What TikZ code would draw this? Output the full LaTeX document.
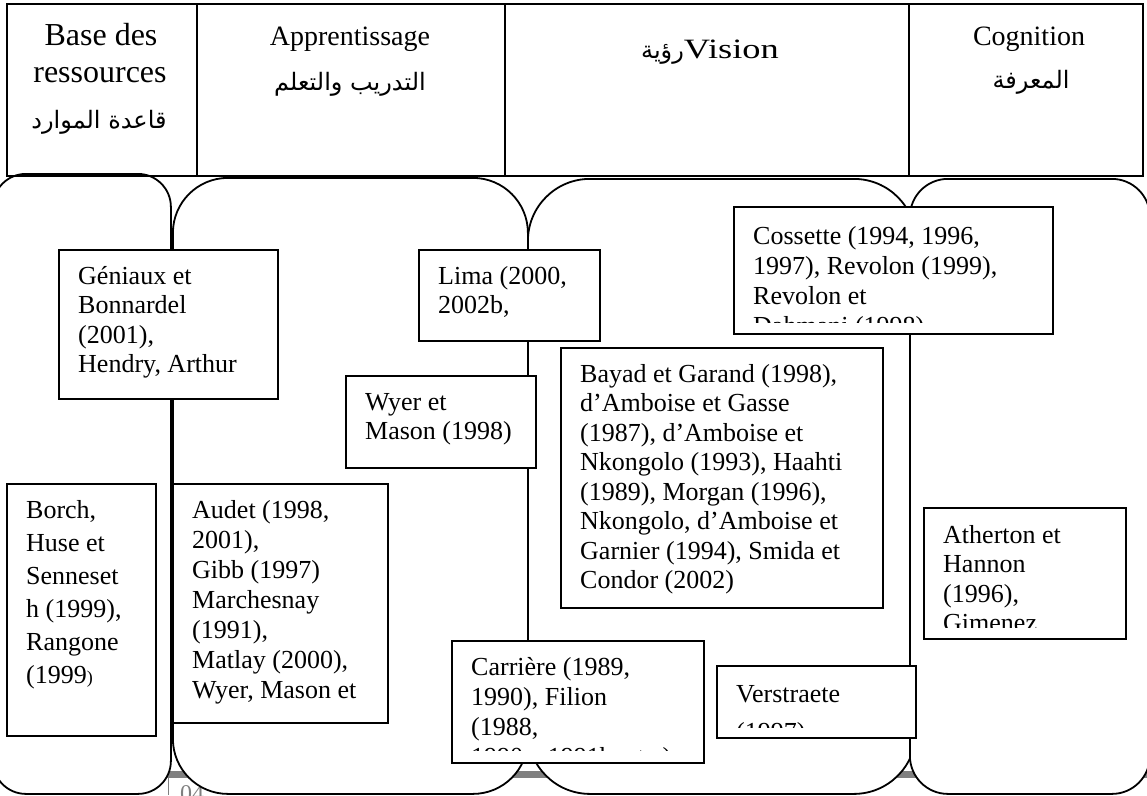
\documentclass[tikz,border=0pt]{standalone}
\usepackage{fontspec}
\setmainfont{Liberation Serif}
\newfontfamily\arabicfont[Script=Arabic]{DejaVu Sans}
\TeXXeTstate=1
\tikzset{
 lane/.style={draw=black, line width=1.8pt, fill=white, inner sep=0pt, anchor=north west},
 hcell/.style={draw=black, line width=2.2pt, inner sep=0pt, anchor=north west},
 refbox/.style={draw=black, line width=2pt, fill=white, inner sep=0pt, anchor=north west},
 reftext/.style={inner sep=0pt, anchor=base west},
 hbig/.style={inner sep=0pt, anchor=base, font=\fontsize{32}{32}\selectfont},
 hmid/.style={inner sep=0pt, anchor=base, font=\fontsize{28}{28}\selectfont},
 harab/.style={inner sep=0pt, anchor=base, font=\arabicfont\fontsize{24}{24}\selectfont},
}
% name, x, y, w, h, first baseline offset, line spacing, bottom clip margin, text
\newcommand\citebox[9]{%
 \node[refbox, minimum width=#4pt, minimum height=#5pt] (#1) at (#2,-#3) {};
 \begin{scope}
  \clip (#2,-#3) rectangle ({#2+#4},{-#3-#5+#8});
  \node[reftext] (#1-t) at ({#2+20},{-#3-#6}) {\parbox[t]{400pt}{\fontsize{26}{#7}\selectfont\raggedright #9}};
 \end{scope}}
\begin{document}
\begin{tikzpicture}[x=1pt,y=1pt]
\useasboundingbox (0,0) rectangle (1147,-795);
% gray page rule behind lanes
\fill[gray] (160,-771) rectangle (1147,-778);
\draw[gray, line width=1pt] (168,-778) -- (168,-795);
\node[gray, inner sep=0pt, anchor=base west, font=\fontsize{24}{24}\selectfont] (pg) at (180,-801) {04};
% lanes
\node[lane, rounded corners=33pt, minimum width=178pt, minimum height=620pt] (lane1) at (-8,-173) {};
\node[lane, rounded corners=55pt, minimum width=355pt, minimum height=616pt] (lane2) at (172,-177) {};
\node[lane, rounded corners=62pt, minimum width=388pt, minimum height=615pt] (lane3) at (527,-178) {};
\node[lane, rounded corners=38pt, minimum width=240pt, minimum height=615pt] (lane4) at (909,-178) {};
% header
\node[hcell, minimum width=190pt, minimum height=172pt] (h1) at (6,-3) {};
\node[hcell, minimum width=308pt, minimum height=172pt] (h2) at (196,-3) {};
\node[hcell, minimum width=404pt, minimum height=172pt] (h3) at (504,-3) {};
\node[hcell, minimum width=234pt, minimum height=172pt] (h4) at (908,-3) {};
\node[hbig] (h1a) at (101,-45) {Base des};
\node[hbig] (h1b) at (100,-82) {ressources};
\node[harab] (h1c) at (99,-128) {\beginR قاعدة الموارد\endR};
\node[hmid] (h2a) at (350,-45) {Apprentissage};
\node[harab] (h2b) at (350,-90) {\beginR التدريب والتعلم\endR};
\node[hmid] (h3a) at (710,-58) {{\arabicfont\fontsize{24}{24}\selectfont\beginR رؤية\endR}\scalebox{1.3}[1]{Vision}};
\node[hmid] (h4a) at (1029,-45) {Cognition};
\node[harab] (h4b) at (1031,-88) {\beginR المعرفة\endR};
% citation boxes
\citebox{geniaux}{58}{249}{219}{149}{35}{29.5}{10}{Géniaux et\\Bonnardel\\(2001),\\Hendry, Arthur}
\citebox{lima}{418}{249}{181}{91}{35}{29.5}{10}{Lima (2000,\\2002b,}
\citebox{cossette}{733}{206}{319}{127}{38}{30}{11}{Cossette (1994, 1996,\\1997), Revolon (1999),\\Revolon et\\Dahmani (1998)}
\citebox{wyer}{345}{375}{190}{92}{35}{29.5}{10}{Wyer et\\Mason (1998)}
\citebox{bayad}{560}{347}{322}{260}{35}{29.5}{6}{Bayad et Garand (1998),\\d’Amboise et Gasse\\(1987), d’Amboise et\\Nkongolo (1993), Haahti\\(1989), Morgan (1996),\\Nkongolo, d’Amboise et\\Garnier (1994), Smida et\\Condor (2002)}
\citebox{borch}{6}{483}{149}{252}{35}{33}{10}{Borch,\\Huse et\\Senneset\\h (1999),\\Rangone\\(1999{\fontsize{18}{18}\selectfont)}}
\citebox{audet}{172}{483}{215}{239}{35}{30}{10}{Audet (1998,\\2001),\\Gibb (1997)\\Marchesnay\\(1991),\\Matlay (2000),\\Wyer, Mason et}
\citebox{carriere}{451}{640}{252}{122}{35}{30}{12}{Carrière (1989,\\1990), Filion\\(1988,\\1990a, 1991b, etc.)}
\citebox{verstraete}{716}{665}{199}{72}{37}{38}{10}{Verstraete\\(1997)}
\citebox{atherton}{923}{507}{202}{131}{36}{29.5}{11}{Atherton et\\Hannon\\(1996),\\Gimenez}
\end{tikzpicture}
\end{document}
